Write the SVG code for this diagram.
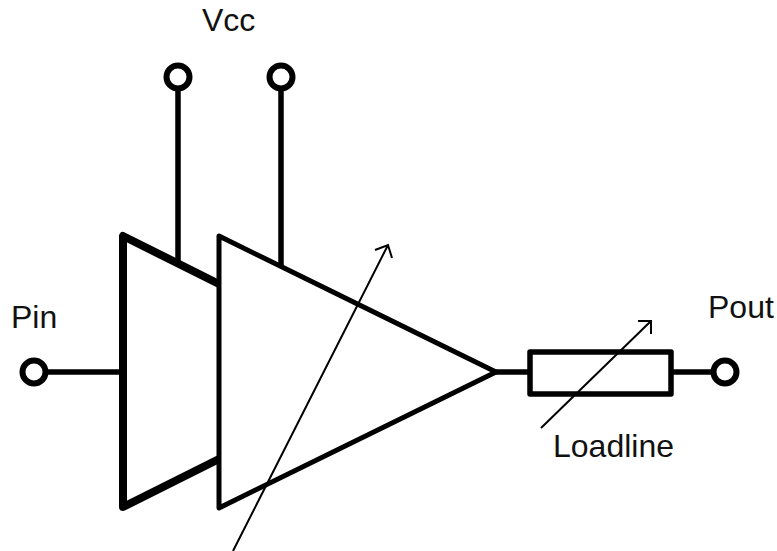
<svg xmlns="http://www.w3.org/2000/svg" width="777" height="551" viewBox="0 0 777 551">
<style>
.w{fill:none;stroke:#000;stroke-width:5.5}
.t{fill:none;stroke:#000;stroke-linejoin:round}
.p{fill:#fff;stroke:#000;stroke-width:6}
.a{fill:none;stroke:#000;stroke-width:2}
text{font-family:"Liberation Sans",Arial,sans-serif;font-size:32px;fill:#111}
</style>
<rect width="777" height="551" fill="#fff"/>
<g id="connectors">
<path class="w" d="M178 90V262M281 90V266M47 372H122M496 372H530M670 372H712"/>
</g>
<g id="amp-back"><path class="t" stroke-width="8" d="M219 284L123 236V507L219 459"/></g>
<g id="amp-front"><path class="t" stroke-width="5" fill="#fff" d="M219 236L496 372L219 508Z"/></g>
<g id="load"><rect class="t" stroke-width="5.5" x="530" y="352" width="141" height="42"/></g>
<g id="vcc1"><circle class="p" cx="178" cy="77" r="11.5"/></g>
<g id="vcc2"><circle class="p" cx="281" cy="77" r="11.5"/></g>
<g id="pin-node"><circle class="p" cx="34" cy="372" r="11.5"/></g>
<g id="pout-node"><circle class="p" cx="725" cy="372" r="11.5"/></g>
<g id="arrows">
<path class="a" d="M233 551L388 245M375 250L388 245L392 258M541 428L651 321M638 321H651V334"/>
</g>
<g id="labels">
<text x="202" y="31">Vcc</text>
<text x="11" y="328">Pin</text>
<text x="708" y="318">Pout</text>
<text x="553" y="457">Loadline</text>
</g>
</svg>
